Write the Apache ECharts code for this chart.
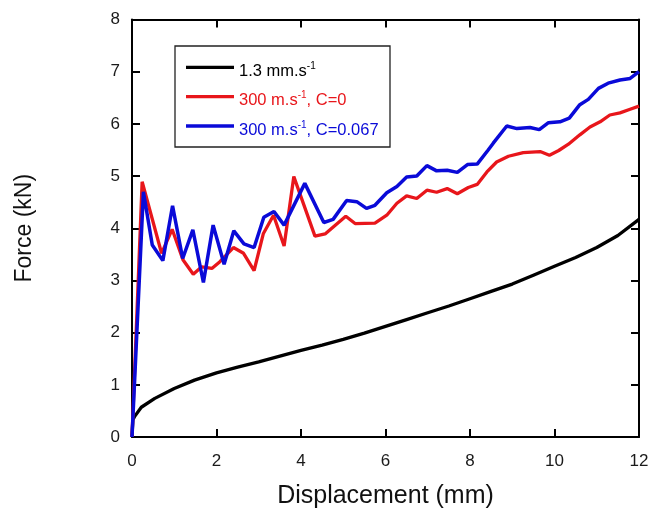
<!DOCTYPE html>
<html><head><meta charset="utf-8">
<script src="https://cdn.jsdelivr.net/npm/echarts@6/dist/echarts.min.js"></script>
<style>html,body{margin:0;padding:0;background:#fff}#c{width:654px;height:510px}</style>
</head><body><div id="c"></div>
<script>
const seriesNames = ['1.3 mm.s-1', '300 m.s-1, C=0', '300 m.s-1, C=0.067'];
const xTicks = [0, 2, 4, 6, 8, 10, 12];
const yTicks = [0, 1, 2, 3, 4, 5, 6, 7, 8];
const blackX = [0, 0.02, 0.06, 0.22, 0.54, 1.0, 1.48, 2, 2.5, 3, 3.5, 4, 4.5, 5, 5.5, 6, 6.5, 7, 7.5, 8, 8.5, 9, 9.5, 10, 10.5, 11, 11.5, 12];
const blackY = [0, 0.33, 0.39, 0.57, 0.74, 0.93, 1.09, 1.23, 1.34, 1.44, 1.55, 1.66, 1.76, 1.87, 1.99, 2.12, 2.25, 2.38, 2.51, 2.65, 2.79, 2.93, 3.10, 3.27, 3.44, 3.63, 3.86, 4.17];
const redX = [0, 0.24, 0.70, 0.95, 1.21, 1.45, 1.65, 1.89, 2.08, 2.40, 2.64, 2.89, 3.11, 3.35, 3.60, 3.83, 4.33, 4.57, 5.06, 5.28, 5.75, 6.03, 6.27, 6.50, 6.74, 6.98, 7.21, 7.46, 7.70, 7.96, 8.17, 8.40, 8.63, 8.91, 9.26, 9.66, 9.88, 10.10, 10.33, 10.60, 10.84, 11.08, 11.31, 11.55, 11.79, 12];
const redY = [0, 4.89, 3.52, 3.98, 3.39, 3.12, 3.26, 3.23, 3.36, 3.63, 3.52, 3.19, 3.90, 4.25, 3.66, 4.99, 3.85, 3.89, 4.23, 4.09, 4.10, 4.25, 4.48, 4.62, 4.57, 4.73, 4.69, 4.76, 4.66, 4.78, 4.84, 5.08, 5.27, 5.38, 5.45, 5.47, 5.40, 5.49, 5.61, 5.79, 5.94, 6.04, 6.17, 6.21, 6.28, 6.34];
const blueX = [0, 0.27, 0.48, 0.73, 0.96, 1.20, 1.44, 1.69, 1.92, 2.18, 2.41, 2.65, 2.89, 3.12, 3.36, 3.60, 4.09, 4.54, 4.76, 5.08, 5.32, 5.55, 5.75, 6.03, 6.27, 6.50, 6.74, 6.98, 7.21, 7.46, 7.70, 7.94, 8.17, 8.43, 8.55, 8.87, 9.11, 9.42, 9.64, 9.85, 10.13, 10.35, 10.59, 10.80, 11.04, 11.27, 11.55, 11.79, 12];
const blueY = [0, 4.70, 3.68, 3.38, 4.43, 3.42, 3.97, 2.96, 4.06, 3.31, 3.95, 3.70, 3.63, 4.21, 4.32, 4.06, 4.86, 4.11, 4.17, 4.53, 4.51, 4.38, 4.44, 4.68, 4.80, 4.98, 5.00, 5.20, 5.10, 5.11, 5.07, 5.22, 5.23, 5.50, 5.63, 5.96, 5.91, 5.93, 5.89, 6.02, 6.04, 6.11, 6.36, 6.47, 6.68, 6.78, 6.84, 6.87, 7.00];

const colors = ['#000000', '#e8161b', '#0a0ad8'];
const pairs = (xs, ys) => xs.map((x, i) => [x, ys[i]]);
const FONT = '"Liberation Sans", Arial, sans-serif';

// legend key rendered as graphic (line + rich text with superscript)
const legendRich = (c) => ({
  m: {fill: c, fontSize: 16.5, fontFamily: FONT, lineHeight: 20},
  s: {fill: c, fontSize: 10, fontFamily: FONT, verticalAlign: 'top', lineHeight: 20}
});
const legendText = [
  '{m|1.3 mm.s}{s|-1}',
  '{m|300 m.s}{s|-1}{m|, C=0}',
  '{m|300 m.s}{s|-1}{m|, C=0.067}'
];
const legendBox = {x: 175, y: 46, w: 215, h: 101};
const legendRows = [67.3, 96.7, 126];
const legendGraphics = [{
  type: 'rect', shape: {x: legendBox.x, y: legendBox.y, width: legendBox.w, height: legendBox.h},
  style: {fill: '#fff', stroke: '#222', lineWidth: 1.3}, z: 10
}];
seriesNames.forEach((n, i) => {
  legendGraphics.push({
    type: 'line', shape: {x1: 186, y1: legendRows[i], x2: 234, y2: legendRows[i]},
    style: {stroke: colors[i], lineWidth: 3.3}, z: 11
  });
  legendGraphics.push({
    type: 'text', x: 239, y: legendRows[i] + 4,
    style: {text: legendText[i], fill: colors[i], rich: legendRich(colors[i]), verticalAlign: 'middle', align: 'left'}, z: 11
  });
});

const axisLine = {show: true, onZero: false, lineStyle: {color: '#000', width: 2}};
const axisTick = {show: true, inside: true, length: 8, lineStyle: {color: '#000', width: 2}};
const labelStyle = {color: '#1a1a1a', fontSize: 17, fontFamily: FONT};

const chart = echarts.init(document.getElementById('c'), null, {renderer: 'canvas'});
chart.setOption({
  animation: false,
  backgroundColor: '#fff',
  grid: {left: 132, right: 15, top: 19.5, bottom: 73, containLabel: false, outerBoundsMode: 'none'},
  graphic: legendGraphics,
  xAxis: [{
    type: 'value', min: 0, max: 12, interval: 2,
    name: 'Displacement (mm)', nameLocation: 'middle', nameGap: 47,
    nameTextStyle: {color: '#111', fontSize: 25, fontFamily: FONT},
    axisLine: axisLine, axisTick: axisTick,
    axisLabel: Object.assign({margin: 16, formatter: v => xTicks.includes(v) ? String(v) : ''}, labelStyle),
    splitLine: {show: false}
  }, {
    type: 'value', position: 'top', min: 0, max: 12, interval: 2,
    axisLine: axisLine, axisTick: axisTick, axisLabel: {show: false}, splitLine: {show: false}
  }],
  yAxis: [{
    type: 'value', min: 0, max: 8, interval: 1,
    name: 'Force (kN)', nameLocation: 'middle', nameGap: 96,
    nameTextStyle: {color: '#111', fontSize: 23, fontFamily: FONT},
    axisLine: axisLine, axisTick: axisTick,
    axisLabel: Object.assign({margin: 12, formatter: v => yTicks.includes(v) ? String(v) : ''}, labelStyle),
    splitLine: {show: false}
  }, {
    type: 'value', position: 'right', min: 0, max: 8, interval: 1,
    axisLine: axisLine, axisTick: axisTick, axisLabel: {show: false}, splitLine: {show: false}
  }],
  series: [
    {name: seriesNames[0], type: 'line', data: pairs(blackX, blackY), symbol: 'none', color: colors[0], lineStyle: {width: 3.3, color: colors[0]}},
    {name: seriesNames[1], type: 'line', data: pairs(redX, redY), symbol: 'none', color: colors[1], lineStyle: {width: 3.3, color: colors[1]}},
    {name: seriesNames[2], type: 'line', data: pairs(blueX, blueY), symbol: 'none', color: colors[2], lineStyle: {width: 3.5, color: colors[2]}}
  ]
});
</script></body></html>
